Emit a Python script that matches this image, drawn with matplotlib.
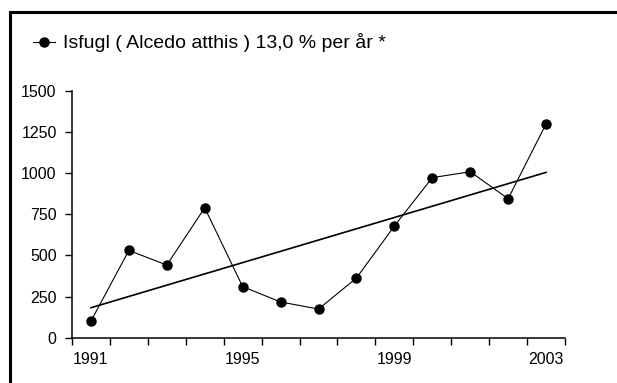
import matplotlib
matplotlib.use('Agg')
import matplotlib.pyplot as plt
import numpy as np
from matplotlib.patches import Rectangle

years = [1991, 1992, 1993, 1994, 1995, 1996, 1997, 1998, 1999, 2000, 2001, 2002, 2003]
counts = [101, 530, 441, 789, 310, 217, 174, 362, 678, 972, 1008, 844, 1298]
trend = [182, 1004]  # trend line value at first and last year
label = 'Isfugl ( Alcedo atthis ) 13,0 % per år *'
yticks = [0, 250, 500, 750, 1000, 1250, 1500]
xlabel_years = [1991, 1995, 1999, 2003]

plt.rcParams['font.family'] = ['Liberation Sans', 'DejaVu Sans']

W, H = 617, 383
fig = plt.figure(figsize=(W / 100, H / 100), dpi=100)
ax = fig.add_axes([72 / W, 1 - 337.7 / H, (565 - 72) / W, (337.7 - 90.7) / H])

x = np.arange(len(years))
ax.plot(x, counts, color='black', lw=0.8, marker='o', markersize=6.5,
        markerfacecolor='black', markeredgecolor='black', label=label)
ax.plot([x[0], x[-1]], trend, color='black', lw=1.2)

ax.set_xlim(-0.5, len(years) - 0.5)
ax.set_ylim(0, 1500)
ax.set_yticks(yticks)
ax.set_yticklabels([str(v) for v in yticks])

xt = [years.index(y) for y in xlabel_years]
ax.set_xticks(xt)
ax.set_xticklabels([str(y) for y in xlabel_years])
ax.set_xticks(np.arange(-0.5, len(years), 1), minor=True)
ax.tick_params(axis='x', which='major', length=0, pad=10, labelsize=11.5)
ax.tick_params(axis='x', which='minor', length=5, width=1, direction='out')
ax.tick_params(axis='y', length=5, width=1, direction='out', pad=6, labelsize=11.5)

for s in ['top', 'right']:
    ax.spines[s].set_visible(False)
for s in ['left', 'bottom']:
    ax.spines[s].set_linewidth(1.1)

ax.legend(loc='center left', bbox_to_anchor=(33 / W, 1 - 43 / H), bbox_transform=fig.transFigure,
          frameon=False, fontsize=14, handlelength=1.15, handletextpad=0.4,
          borderaxespad=0, borderpad=0)

# outer border, partly clipped like the original
fig.patches.append(Rectangle((9.5 / W, -0.05), 1.1, 1 - 12 / H + 0.05, transform=fig.transFigure,
                             fill=False, edgecolor='black', lw=2.2))

fig.savefig('out.png', dpi=100)
